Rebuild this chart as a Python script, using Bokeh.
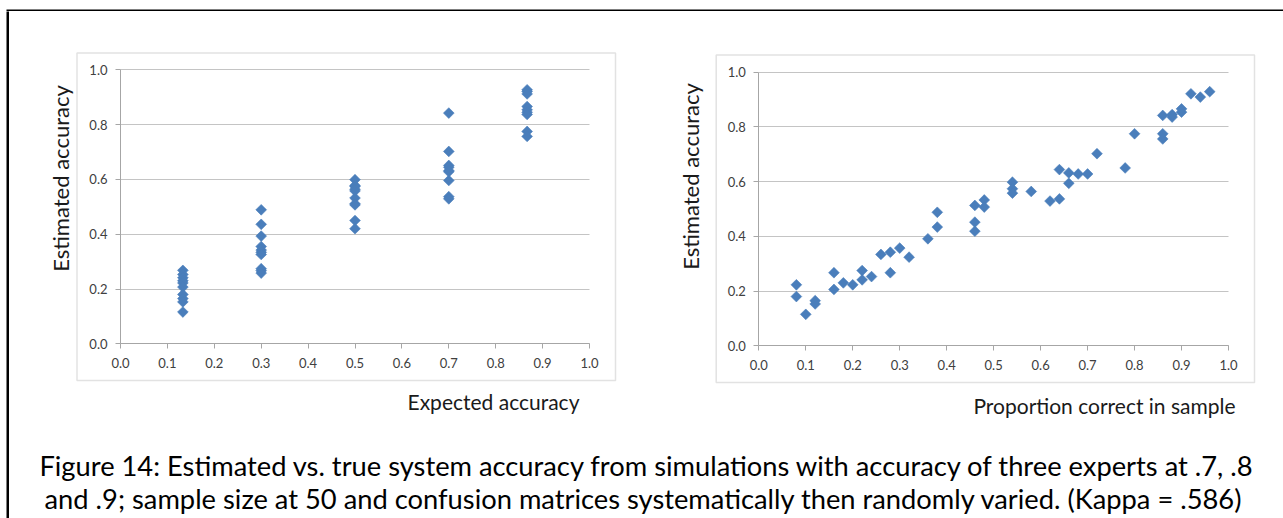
import math
from bokeh.plotting import figure
from bokeh.layouts import column, row
from bokeh.models import Range1d, FixedTicker, NumeralTickFormatter, Label, BoxAnnotation
from bokeh.embed import file_html
from bokeh.resources import INLINE

# ---------------- data ----------------
expected_levels = [0.133, 0.3, 0.5, 0.7, 0.867]
estimated_by_level = [
    [0.268, 0.253, 0.241, 0.230, 0.222, 0.207, 0.180, 0.165, 0.153, 0.116],
    [0.489, 0.436, 0.393, 0.355, 0.342, 0.334, 0.326, 0.274, 0.267, 0.258],
    [0.599, 0.578, 0.574, 0.564, 0.558, 0.532, 0.511, 0.507, 0.450, 0.420],
    [0.842, 0.702, 0.651, 0.644, 0.632, 0.628, 0.596, 0.537, 0.529],
    [0.927, 0.921, 0.912, 0.866, 0.854, 0.845, 0.837, 0.775, 0.757],
]

proportion_correct = [0.08, 0.08, 0.10, 0.12, 0.12, 0.16, 0.16, 0.18, 0.20, 0.22,
                      0.22, 0.24, 0.26, 0.28, 0.28, 0.30, 0.32, 0.36, 0.38, 0.38,
                      0.46, 0.46, 0.46, 0.48, 0.48, 0.54, 0.54, 0.54, 0.58, 0.62,
                      0.64, 0.64, 0.66, 0.66, 0.68, 0.70, 0.72, 0.78, 0.80, 0.86,
                      0.86, 0.86, 0.88, 0.88, 0.90, 0.90, 0.92, 0.94, 0.96]
estimated_accuracy = [0.223, 0.180, 0.115, 0.165, 0.153, 0.267, 0.206, 0.230, 0.223, 0.275,
                      0.241, 0.253, 0.334, 0.342, 0.267, 0.357, 0.324, 0.391, 0.488, 0.434,
                      0.513, 0.452, 0.419, 0.533, 0.507, 0.598, 0.574, 0.558, 0.564, 0.529,
                      0.644, 0.537, 0.632, 0.594, 0.628, 0.628, 0.702, 0.650, 0.775, 0.842,
                      0.775, 0.756, 0.836, 0.845, 0.854, 0.866, 0.921, 0.909, 0.929]

x_ticks = [0.0, 0.1, 0.2, 0.3, 0.4, 0.5, 0.6, 0.7, 0.8, 0.9, 1.0]
y_ticks = [0.0, 0.2, 0.4, 0.6, 0.8, 1.0]

y_title = "Estimated accuracy"
x_title_left = "Expected accuracy"
x_title_right = "Proportion correct in sample"
caption_lines = [
    "Figure 14: Estimated vs. true system accuracy from simulations with accuracy of three experts at .7, .8",
    "and .9; sample size at 50 and confusion matrices systematically then randomly varied.  (Kappa = .586)",
]

# ---------------- style / layout ----------------
FONT = "Lato"
BLUE = "#4a7ebb"
GRID = "#c4c4c4"
AXIS = "#a6a6a6"
BOX = "#a0a0a0"
TICK_TXT = "#404040"
PAGE_W = 1283
PAGE_H = 518
TOP_Y = 11          # height of the top strip (black rule at 8..11)
LEFT_X = 9          # width of the left strip (black rule at 6..9)
TOP_H = 446         # bottom of the chart row (page y)
PANEL_L = 36
PANEL_B = 28


def make_chart(xs, ys, fig_x0, fig_w, zero_one_x, zero_one_y, box, ylab, xlab):
    """zero_one_x = (page x of 0, page x of 1); zero_one_y = (page y of 0, page y of 1)."""
    fig_h = TOP_H - TOP_Y
    x0p, x1p = zero_one_x
    y0p, y1p = zero_one_y

    def dx(px):
        return (px - x0p) / (x1p - x0p)

    def dy(py):
        return (y0p - py) / (y0p - y1p)

    f_left = fig_x0 + PANEL_L
    f_right = fig_x0 + fig_w
    f_top = TOP_Y
    f_bottom = TOP_H - PANEL_B

    p = figure(width=fig_w, height=fig_h,
               x_range=Range1d(dx(f_left), dx(f_right)),
               y_range=Range1d(dy(f_bottom), dy(f_top)),
               output_backend="svg", toolbar_location=None,
               min_border_left=PANEL_L, min_border_right=0,
               min_border_top=0, min_border_bottom=PANEL_B)
    p.outline_line_color = None
    p.background_fill_color = "white"
    p.border_fill_color = "white"

    # chart-area border (Excel chart box)
    l, t, r, b = box
    p.add_layout(BoxAnnotation(left=dx(l), right=dx(r), top=dy(t), bottom=dy(b),
                               fill_alpha=0, line_color=BOX, line_width=1.5))

    p.xgrid.visible = False
    p.ygrid.ticker = FixedTicker(ticks=y_ticks)
    p.ygrid.grid_line_color = GRID
    p.ygrid.grid_line_width = 1
    p.ygrid.bounds = (0, 1)
    p.ygrid.cross_bounds = (0, 1)

    for ax, ticks in ((p.xaxis[0], x_ticks), (p.yaxis[0], y_ticks)):
        ax.ticker = FixedTicker(ticks=ticks)
        ax.formatter = NumeralTickFormatter(format="0.0")
        ax.fixed_location = 0
        ax.bounds = (0, 1)
        ax.axis_line_color = AXIS
        ax.major_tick_line_color = AXIS
        ax.major_tick_in = 0
        ax.major_tick_out = 5
        ax.minor_tick_line_color = None
        ax.major_label_text_font = FONT
        ax.major_label_text_font_size = "13px"
        ax.major_label_text_color = TICK_TXT
    p.xaxis.major_label_standoff = 9
    p.yaxis.major_label_standoff = 8

    p.scatter(xs, ys, marker="square", angle=math.pi / 4, size=7.6,
              fill_color=BLUE, line_color=BLUE, line_width=0.6)

    # axis titles
    yx, yy = ylab
    p.add_layout(Label(x=dx(yx), y=dy(yy), text=y_title, angle=math.pi / 2,
                       text_align="center", text_baseline="middle",
                       text_font=FONT, text_font_size="22px", text_color="#1a1a1a"))
    xt, xx, xy = xlab
    p.add_layout(Label(x=dx(xx), y=dy(xy), text=xt,
                       text_align="center", text_baseline="middle",
                       text_font=FONT, text_font_size="21px", text_color="#1a1a1a"))
    return p


left_xs = [lvl for lvl, vals in zip(expected_levels, estimated_by_level) for _ in vals]
left_ys = [v for vals in estimated_by_level for v in vals]

SPLIT = 620
p1 = make_chart(left_xs, left_ys, LEFT_X, SPLIT - LEFT_X, (120, 589), (343.3, 69.3),
                (76.5, 52.5, 615, 380), (60, 178), (x_title_left, 493, 401))
p2 = make_chart(proportion_correct, estimated_accuracy, SPLIT, PAGE_W - SPLIT,
                (758.3, 1228), (345.3, 71.7),
                (715.7, 54.6, 1254, 382), (690, 176), (x_title_right, 1104, 405))


def blank(w, h):
    f = figure(width=w, height=h, x_range=Range1d(0, w), y_range=Range1d(h, 0),
               x_axis_type=None, y_axis_type=None, output_backend="svg",
               toolbar_location=None, min_border=0)
    f.outline_line_color = None
    f.grid.visible = False
    f.border_fill_color = "white"
    f.background_fill_color = "white"
    return f


top_strip = blank(PAGE_W, TOP_Y)
top_strip.add_layout(BoxAnnotation(left=6, right=PAGE_W + 5, top=8, bottom=TOP_Y + 2,
                                   fill_color="black", fill_alpha=1, line_color=None))
left_strip = blank(LEFT_X, PAGE_H - TOP_Y)
left_strip.add_layout(BoxAnnotation(left=6, right=LEFT_X + 2, top=-5, bottom=PAGE_H + 5,
                                    fill_color="black", fill_alpha=1, line_color=None))

cap_w = PAGE_W - LEFT_X
cap_h = PAGE_H - TOP_H
p3 = blank(cap_w, cap_h)
for i, line in enumerate(caption_lines):
    p3.add_layout(Label(x=647 - LEFT_X, y=465 - TOP_H + 33 * i, text=line, text_align="center",
                        text_baseline="middle", text_font=FONT, text_font_size="27.3px",
                        text_color="black"))

layout = column(top_strip, row(left_strip, column(row(p1, p2), p3)))
open("out.html", "w").write(file_html(layout, INLINE))
